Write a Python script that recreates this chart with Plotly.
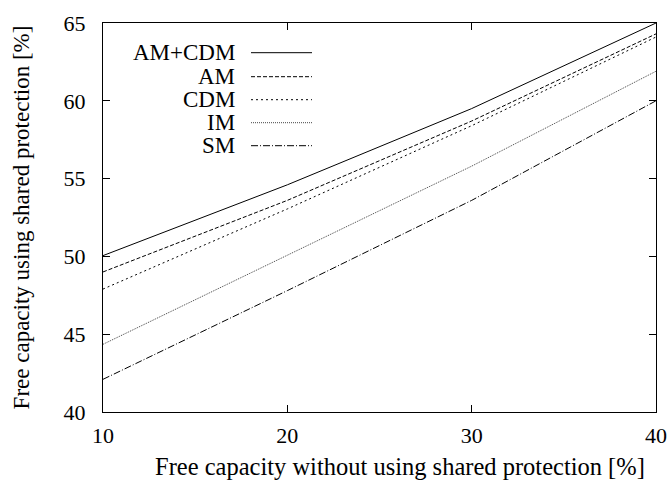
import plotly.graph_objects as go

x_vals = [10, 20, 30, 40]
series_names = ["AM+CDM", "AM", "CDM", "IM", "SM"]
am_cdm = [50.05, 54.6, 59.5, 65.0]
am = [49.0, 53.6, 58.7, 64.3]
cdm = [47.9, 53.05, 58.4, 64.1]
im = [44.35, 50.1, 55.8, 61.9]
sm = [42.1, 47.8, 53.6, 60.0]
x_ticks = [10, 20, 30, 40]
y_ticks = [40, 45, 50, 55, 60, 65]
x_title = "Free capacity without using shared protection [%]"
y_title = "Free capacity using shared protection [%]"

series_values = [am_cdm, am, cdm, im, sm]
dashes = ["solid", "4px,2px", "2px,3px", "1px,1px", "7px,2px,1px,2px"]
colors = ["#000000", "#000000", "#000000", "#444444", "#000000"]

FONT = "Liberation Serif"
fig = go.Figure()
for name, vals, d, c in zip(series_names, series_values, dashes, colors):
    fig.add_trace(go.Scatter(x=x_vals, y=vals, mode="lines", name=name,
                             line=dict(color=c, width=1, dash=d), showlegend=False))

L, R, T, B = 103, 14, 23, 69
W, H = 670, 481
pw, ph = W - L - R, H - T - B
def px(xp):
    return (xp - L) / pw
def py(yp):
    return 1 - (yp - T) / ph

# manual legend (text left of sample lines, gnuplot style)
rows = [52.7, 76.7, 99.7, 122.7, 145.7]
for name, yy, d, c in zip(series_names, rows, dashes, colors):
    fig.add_annotation(x=px(237), y=py(yy), xref="paper", yref="paper", text=name,
                       showarrow=False, xanchor="right", yanchor="middle",
                       font=dict(family=FONT, size=23, color="black"))
    fig.add_shape(type="line", xref="paper", yref="paper", x0=px(251), x1=px(312),
                  y0=py(yy), y1=py(yy), line=dict(color=c, width=1, dash=d))

# x axis title (offset to the right, as in the reference)
fig.add_annotation(x=px(399.5), y=py(466.5), xref="paper", yref="paper", text=x_title,
                   showarrow=False, xanchor="center", yanchor="middle",
                   font=dict(family=FONT, size=24.5, color="black"))

axis_common = dict(showline=True, linecolor="black", linewidth=1, mirror="ticks",
                   ticks="inside", ticklen=7, tickcolor="black", showgrid=False,
                   zeroline=False, automargin=False,
                   tickfont=dict(family=FONT, size=22, color="black"))
fig.update_xaxes(range=[10, 40], tickvals=x_ticks, ticktext=[str(v) for v in x_ticks],
                 ticklabelstandoff=4, **axis_common)
fig.update_yaxes(range=[40, 65], tickvals=y_ticks, ticktext=[str(v) for v in y_ticks],
                 title=dict(text=y_title,
                            font=dict(family=FONT, size=23, color="black"), standoff=27),
                 ticklabelstandoff=12, **axis_common)
fig.update_layout(width=W, height=H, margin=dict(l=L, r=R, t=T, b=B),
                  paper_bgcolor="white", plot_bgcolor="white", showlegend=False)
fig.write_html("out.html", config={"displayModeBar": False},
               post_script="document.body.style.margin='0px';document.body.style.overflow='hidden';")
